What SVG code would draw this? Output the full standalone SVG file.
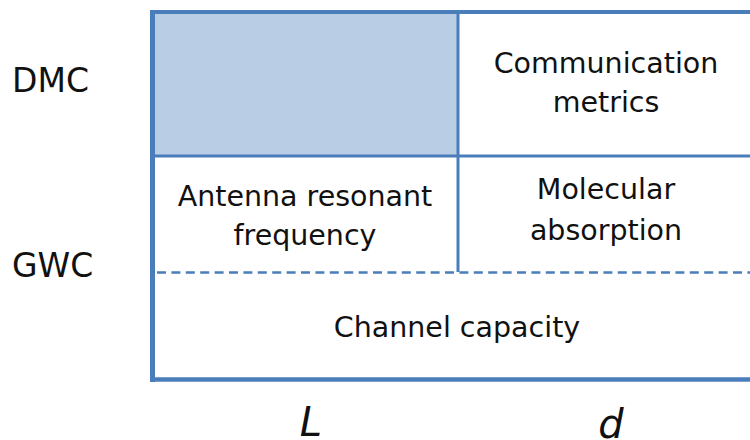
<svg xmlns="http://www.w3.org/2000/svg" width="750" height="440" viewBox="0 0 750 440">
<style>
.ln{stroke:#4a7ebb;fill:none;}
.t{font-family:"DejaVu Sans","Liberation Serif",sans-serif;fill:#111;}
.c{font-size:28.5px;text-anchor:middle;}
.lab{font-size:33px;}
.ax{font-size:40px;font-style:italic;text-anchor:middle;}
</style>
<rect width="750" height="440" fill="#fff"/>
<g id="cell-dmc-l"><rect x="154" y="13" width="304" height="143" fill="#b9cde5"/></g>
<g id="connectors">
<line class="ln" x1="458" y1="12" x2="458" y2="272" stroke-width="3"/>
<line class="ln" x1="152" y1="156" x2="750" y2="156" stroke-width="3"/>
<line class="ln" x1="154" y1="272.5" x2="750" y2="272.5" stroke-width="2.5" stroke-dasharray="9 5.4" stroke-dashoffset="-3"/>
<line class="ln" x1="150" y1="12" x2="750" y2="12" stroke-width="4"/>
<line class="ln" x1="150" y1="379.5" x2="750" y2="379.5" stroke-width="4.5"/>
<line class="ln" x1="152.5" y1="10" x2="152.5" y2="382" stroke-width="5"/>
</g>
<g id="label-dmc"><text class="t lab" x="12" y="92">DMC</text></g>
<g id="label-gwc"><text class="t lab" x="12" y="277">GWC</text></g>
<g id="cell-comm"><text class="t c" x="606" y="73">Communication</text><text class="t c" x="606" y="112">metrics</text></g>
<g id="cell-antenna"><text class="t c" x="305" y="206">Antenna resonant</text><text class="t c" x="305" y="245">frequency</text></g>
<g id="cell-molecular"><text class="t c" x="606" y="199">Molecular</text><text class="t c" x="606" y="240">absorption</text></g>
<g id="cell-capacity"><text class="t c" x="457" y="337">Channel capacity</text></g>
<g id="axis-l"><text class="t ax" x="311" y="436">L</text></g>
<g id="axis-d"><text class="t ax" x="611" y="438">d</text></g>
</svg>
